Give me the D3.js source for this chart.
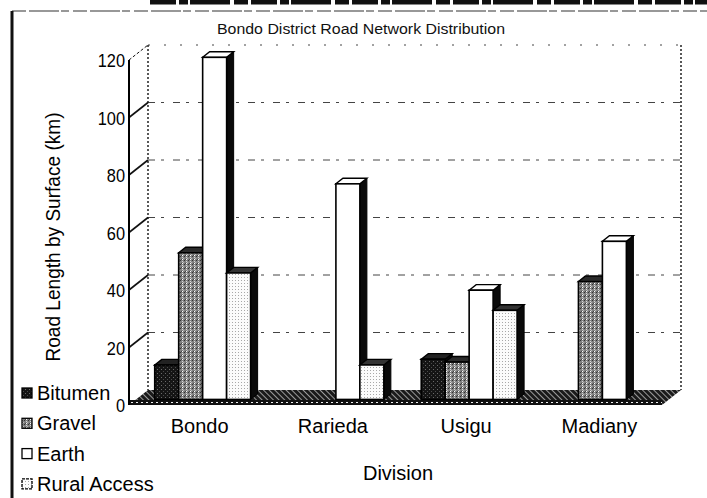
<!DOCTYPE html>
<html>
<head>
<meta charset="utf-8">
<script src="https://cdn.jsdelivr.net/npm/d3@7"></script>
<style>
  html, body { margin: 0; padding: 0; background: #fff; }
  svg { display: block; font-family: "Liberation Sans", Arial, sans-serif; }
</style>
</head>
<body>
<div id="chart"></div>
<script>
// Bondo District road network - 3D clustered bars (scanned look)

const divisions = ['Bondo', 'Rarieda', 'Usigu', 'Madiany'];
const surfaces = ['Bitumen', 'Gravel', 'Earth', 'Rural Access'];
const bitumen = [12, 0, 14, 0];
const gravel = [51, 0, 13, 41];
const earth = [119, 75, 38, 55];
const ruralAccess = [44, 12, 31, 0];
const yTicks = [0, 20, 40, 60, 80, 100, 120];

const width = 707;
const height = 498;

const svg = d3.select('#chart').append('svg')
  .attr('width', width)
  .attr('height', height);

// depth of the 3D box (front plane -> back wall)
const depth = { dx: 19, dy: -15 };
const proj = (x, y, z) => [x + z * depth.dx, y + z * depth.dy];

const x0 = d3.scaleBand().domain(divisions).range([129, 662]).paddingInner(0);
const x1 = d3.scaleBand().domain(surfaces).range([0, x0.bandwidth()])
  .paddingInner(0).paddingOuter(0.78);
const y = d3.scaleLinear().domain([0, 120]).range([405, 60]);

// ---- patterns (to mimic the printed hatching)
const defs = svg.append('defs');
function makePattern(id, w, h, bg, dots, extra) {
  const p = defs.append('pattern').attr('id', id)
    .attr('patternUnits', 'userSpaceOnUse').attr('width', w).attr('height', h);
  if (extra) p.attr('patternTransform', extra);
  p.append('rect').attr('width', w).attr('height', h).attr('fill', bg);
  dots.forEach(d => p.append('rect')
    .attr('x', d[0]).attr('y', d[1]).attr('width', d[2]).attr('height', d[3]).attr('fill', d[4]));
}
makePattern('p-bitumen', 4, 4, '#151515', [[1, 1, 1, 1, '#6a6a6a'], [3, 3, 1, 1, '#4a4a4a']]);
makePattern('p-gravel', 4, 4, '#808080', [[0, 0, 1, 1, '#333'], [2, 1, 1, 1, '#d8d8d8'], [1, 3, 1, 1, '#444'], [3, 2, 1, 1, '#bbb'], [2, 3, 1, 1, '#fff']]);
makePattern('p-rural', 3, 3, '#fbfbfb', [[1, 1, 1, 1, '#a8a8a8']]);
makePattern('p-floor', 4, 4, '#1a1a1a', [[0, 1, 4, 1, '#9a9a9a']], 'rotate(45)');
makePattern('p-floorfront', 5, 5, '#111', [[1, 2, 2, 1, '#eee']]);

const seriesStyle = {
  'Bitumen':      { front: 'url(#p-bitumen)', top: '#222', legend: 'url(#p-bitumen)' },
  'Gravel':       { front: 'url(#p-gravel)', top: '#2a2a2a', legend: 'url(#p-gravel)' },
  'Earth':        { front: '#ffffff', top: '#ffffff', legend: '#ffffff' },
  'Rural Access': { front: 'url(#p-rural)', top: '#333', legend: 'url(#p-rural)' }
};

// ---- scan frame decoration
svg.append('line')
  .attr('x1', 150).attr('x2', width).attr('y1', 2).attr('y2', 2)
  .attr('stroke', '#111').attr('stroke-width', 5)
  .attr('stroke-dasharray', '26,3,9,2,40,4,14,3');
svg.append('line')
  .attr('x1', 12).attr('x2', width).attr('y1', 11).attr('y2', 11)
  .attr('stroke', '#333').attr('stroke-width', 1.2)
  .attr('stroke-dasharray', '14,3,30,2,8,4');
svg.append('line')
  .attr('x1', 12).attr('x2', 12).attr('y1', 11).attr('y2', height)
  .attr('stroke', '#111').attr('stroke-width', 3);

// ---- title
svg.append('text')
  .attr('x', 361).attr('y', 34)
  .attr('text-anchor', 'middle')
  .attr('font-size', 14)
  .attr('textLength', 288).attr('lengthAdjust', 'spacingAndGlyphs')
  .attr('fill', '#111')
  .text('Bondo District Road Network Distribution');

// ---- back wall
const [bx0, by0] = proj(129, y(0), 1);
const [bx1, by1] = proj(662, y(120), 1);
const g = svg.append('g');

g.append('rect')
  .attr('x', bx0).attr('y', by1).attr('width', bx1 - bx0).attr('height', by0 - by1)
  .attr('fill', '#fff');

// gridlines on the back wall
g.selectAll('.grid')
  .data(yTicks.filter(t => t > 0))
  .enter().append('line')
  .attr('class', 'grid')
  .attr('x1', bx0).attr('x2', bx1)
  .attr('y1', d => proj(0, y(d), 1)[1]).attr('y2', d => proj(0, y(d), 1)[1])
  .attr('stroke', '#444').attr('stroke-width', 1)
  .attr('stroke-dasharray', d => d === 120 ? '2,14' : '7,6,3,9');

// back wall verticals (dotted)
[bx0, bx1].forEach(xx => {
  g.append('line')
    .attr('x1', xx).attr('x2', xx).attr('y1', by1).attr('y2', by0)
    .attr('stroke', '#222').attr('stroke-width', 1.5)
    .attr('stroke-dasharray', '2,2');
});

// side-wall tick diagonals
g.selectAll('.diag')
  .data(yTicks.filter(t => t > 0))
  .enter().append('line')
  .attr('class', 'diag')
  .attr('x1', 129).attr('y1', d => y(d))
  .attr('x2', d => proj(129, y(d), 1)[0]).attr('y2', d => proj(129, y(d), 1)[1])
  .attr('stroke', '#111').attr('stroke-width', d => d === 120 ? 1 : 1.6)
  .attr('stroke-dasharray', d => d === 120 ? '3,2' : null);

// ---- floor
const fl = [proj(129, y(0), 0), proj(662, y(0), 0), proj(662, y(0), 1), proj(129, y(0), 1)];
g.append('polygon')
  .attr('points', fl.map(p => p.join(',')).join(' '))
  .attr('fill', 'url(#p-floor)');
g.append('rect')
  .attr('x', 129).attr('y', y(0) - 5).attr('width', 662 - 129).attr('height', 5)
  .attr('fill', 'url(#p-floorfront)');

// ---- front value axis
const yAxis = g.append('g')
  .attr('transform', 'translate(129,0)')
  .call(d3.axisLeft(y).tickValues(yTicks).tickSize(0).tickPadding(4));
yAxis.select('.domain').remove();
yAxis.selectAll('text')
  .attr('font-size', 19)
  .attr('font-family', '"Liberation Sans", Arial, sans-serif')
  .attr('fill', '#000')
  .attr('dy', '0.36em')
  .each(function () {
    // the printed digits are a bit condensed
    const w = this.getComputedTextLength();
    d3.select(this).attr('textLength', w * 0.86).attr('lengthAdjust', 'spacingAndGlyphs');
  });
g.append('line')
  .attr('x1', 129).attr('x2', 129).attr('y1', y(120)).attr('y2', y(0))
  .attr('stroke', '#000').attr('stroke-width', 2);

// ---- bars
const seriesValues = [bitumen, gravel, earth, ruralAccess];
const bars = [];
divisions.forEach((dv, i) => {
  surfaces.forEach((s, j) => bars.push({ division: dv, surface: s, value: seriesValues[j][i] }));
});

const z0 = 0.37;
const z1 = 0.74;
const barW = x1.bandwidth();

const barG = g.append('g').attr('class', 'bars');
bars.filter(d => d.value > 0).forEach(d => {
  const st = seriesStyle[d.surface];
  const [fx, fyTop] = proj(x0(d.division) + x1(d.surface), y(d.value), z0);
  const fyBot = proj(0, y(0), z0)[1];
  const ddx = (z1 - z0) * depth.dx;
  const ddy = (z1 - z0) * depth.dy;
  const bg = barG.append('g').attr('class', 'bar');

  bg.append('polygon')
    .attr('points', [[fx + barW, fyTop], [fx + barW + ddx, fyTop + ddy], [fx + barW + ddx, fyBot + ddy], [fx + barW, fyBot]]
      .map(p => p.join(',')).join(' '))
    .attr('fill', '#0a0a0a').attr('stroke', '#000').attr('stroke-width', 1);

  bg.append('polygon')
    .attr('points', [[fx, fyTop], [fx + barW, fyTop], [fx + barW + ddx, fyTop + ddy], [fx + ddx, fyTop + ddy]]
      .map(p => p.join(',')).join(' '))
    .attr('fill', st.top).attr('stroke', '#000').attr('stroke-width', 1.4);

  bg.append('rect')
    .attr('x', fx).attr('y', fyTop)
    .attr('width', barW).attr('height', fyBot - fyTop)
    .attr('fill', st.front)
    .attr('stroke', '#000').attr('stroke-width', 1.6);
});

// ---- category axis
const xAxis = svg.append('g')
  .attr('transform', `translate(4,${y(0)})`)
  .call(d3.axisBottom(x0).tickSize(0).tickPadding(14));
xAxis.select('.domain').remove();
xAxis.selectAll('text')
  .attr('font-size', 20)
  .attr('font-family', '"Liberation Sans", Arial, sans-serif')
  .attr('fill', '#000');

svg.append('text')
  .attr('x', 398).attr('y', 480)
  .attr('text-anchor', 'middle')
  .attr('font-size', 20)
  .attr('fill', '#000')
  .text('Division');

svg.append('text')
  .attr('transform', 'translate(60,237) rotate(-90)')
  .attr('text-anchor', 'middle')
  .attr('font-size', 20)
  .attr('textLength', 249).attr('lengthAdjust', 'spacingAndGlyphs')
  .attr('fill', '#000')
  .text('Road Length by Surface (km)');

// ---- legend (bottom left)
const legend = svg.append('g').attr('class', 'legend');
surfaces.forEach((s, i) => {
  const ly = 400 + i * 30.3;
  legend.append('rect')
    .attr('x', 22).attr('y', ly - 12).attr('width', 10).attr('height', 10)
    .attr('fill', seriesStyle[s].legend)
    .attr('stroke', '#000').attr('stroke-width', 1.3)
    .attr('stroke-dasharray', s === 'Rural Access' ? '3,1' : null);
  legend.append('text')
    .attr('x', 37).attr('y', ly)
    .attr('font-size', 20)
    .attr('fill', '#000')
    .text(s);
});
</script>
</body>
</html>
